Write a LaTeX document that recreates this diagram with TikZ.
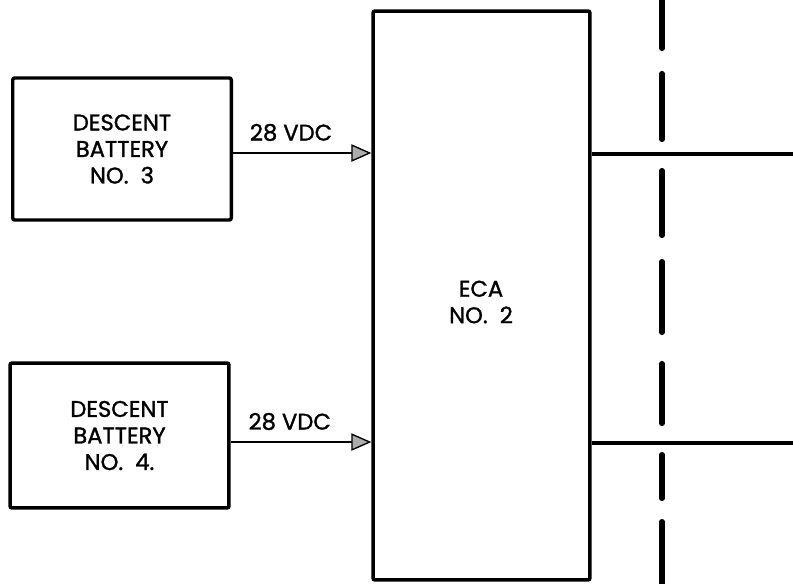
\documentclass[tikz,border=0pt]{standalone}
\usepackage{fontspec}
\setmainfont{Poppins}
\newfontfamily\medfont{Poppins}[FakeBold=1.3]
\usetikzlibrary{arrows.meta}
\tikzset{
  txt/.style={font=\medfont\fontsize{17pt}{19.9pt}\selectfont},
  blk/.style={draw=black, line width=2.6pt, rounded corners=1.5pt, align=center, txt, inner sep=0pt},
  arr/.style={line width=2pt, -{Triangle[length=15pt,width=13pt,fill=gray!65,line width=1pt]}},
  lbl/.style={txt, inner sep=0pt},
  wire/.style={line width=2.4pt},
  sep/.style={line width=3.8pt, line cap=round}
}
\begin{document}
\begin{tikzpicture}[x=0.75pt,y=-0.75pt]
\useasboundingbox (0,0) rectangle (793,583);
\fill[white] (0,0) rectangle (793,583);
\node[blk, minimum width=163.9pt, minimum height=106.5pt] (b3) at (122,149) {DESCENT\\BATTERY\\NO.\ \ 3};
\node[blk, minimum width=164.2pt, minimum height=108.7pt] (b4) at (119.5,435.5) {DESCENT\\BATTERY\\NO.\ \ 4.};
\node[blk, minimum width=162.7pt, minimum height=426.7pt] (eca) at (481.5,295.5) {};
\node[lbl, align=center] (ecat) at (481,302) {ECA\\NO.\ \ 2};
\draw[arr] ([yshift=-3pt]b3.east) -- ([yshift=-3pt]b3.east -| eca.west)
  node[lbl, pos=0.42, above=8pt] (l3) {28 VDC};
\draw[arr] ([yshift=-4.9pt]b4.east) -- ([yshift=-4.9pt]b4.east -| eca.west)
  node[lbl, pos=0.42, above=8pt] (l4) {28 VDC};
\coordinate (r1) at (793,154);
\coordinate (r2) at (793,443);
\draw[wire] (eca.east |- r1) -- (r1);
\draw[wire] (eca.east |- r2) -- (r2);
\foreach \a/\b in {-5/48.5, 73.5/139.5, 170.5/235.5, 261.5/332.5, 363.5/423.5, 454.5/498.5, 521.5/590}
  \draw[sep] (662,\a) -- (662,\b);
\end{tikzpicture}
\end{document}
